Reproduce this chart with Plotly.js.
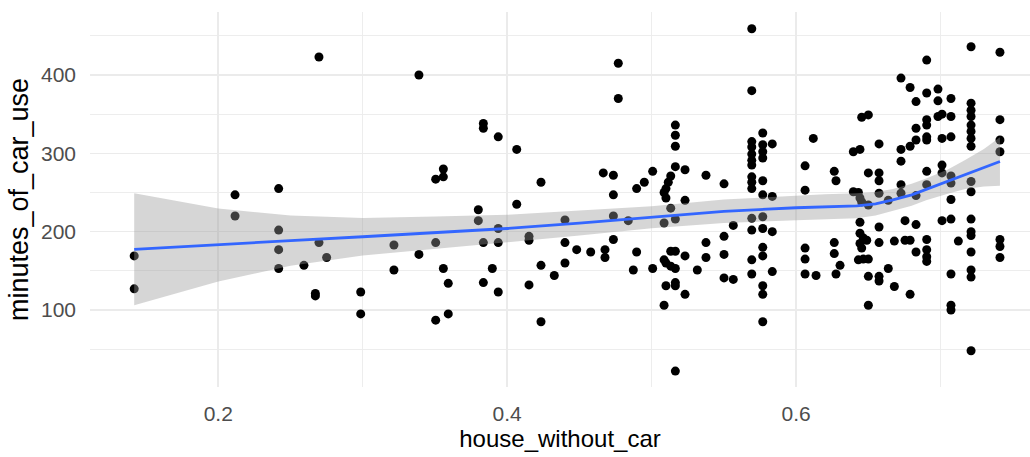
<!DOCTYPE html>
<html>
<head>
<meta charset="utf-8">
<script src="https://cdn.plot.ly/plotly-3.0.1.min.js"></script>
<style>
  html, body { margin: 0; padding: 0; background: #ffffff; }
  #chart { width: 1030px; height: 457px; }
</style>
</head>
<body>
<div id="chart"></div>
<script>
// Observations: share of households without a car vs. minutes of car use
const houseWithoutCar = [
  0.1418, 0.1418, 0.2116, 0.2116, 0.2418, 0.2418, 0.2418, 0.2418, 0.2593, 0.2672,
  0.2672, 0.2697, 0.2697, 0.2750, 0.2986, 0.2986, 0.3216, 0.3216, 0.3389, 0.3389,
  0.3505, 0.3558, 0.3558, 0.3505, 0.3558, 0.3592, 0.3505, 0.3592, 0.3800, 0.3800,
  0.3835, 0.3835, 0.3835, 0.3835, 0.3938, 0.3938, 0.3938, 0.3897, 0.3938, 0.4066,
  0.4066, 0.4151, 0.4151, 0.4234, 0.4234, 0.4151, 0.4234, 0.4326, 0.4400, 0.4400,
  0.4400, 0.4481, 0.4578, 0.4665, 0.4735, 0.4735, 0.4735, 0.4735, 0.4677, 0.4677,
  0.4769, 0.4769, 0.4838, 0.4896, 0.4873, 0.4896, 0.4949, 0.5007, 0.5007, 0.5086,
  0.5164, 0.5164, 0.5164, 0.5164, 0.5231, 0.5132, 0.5115, 0.5099, 0.5086, 0.5099,
  0.5231, 0.5132, 0.5164, 0.5086, 0.5132, 0.5164, 0.5231, 0.5086, 0.5099, 0.5132,
  0.5164, 0.5099, 0.5164, 0.5164, 0.5231, 0.5164, 0.5316, 0.5376, 0.5376, 0.5376,
  0.5501, 0.5501, 0.5501, 0.5501, 0.5565, 0.5565, 0.5693, 0.5693, 0.5769, 0.5693,
  0.5693, 0.5693, 0.5693, 0.5693, 0.5769, 0.5769, 0.5769, 0.5835, 0.5693, 0.5693,
  0.5693, 0.5769, 0.5769, 0.5835, 0.5693, 0.5769, 0.5693, 0.5769, 0.5835, 0.5769,
  0.5769, 0.5693, 0.5693, 0.5835, 0.5769, 0.5769, 0.5769, 0.6062, 0.6062, 0.6119,
  0.6062, 0.6062, 0.6062, 0.6138, 0.6264, 0.6276, 0.6264, 0.6264, 0.6304, 0.6276,
  0.6454, 0.6500, 0.6396, 0.6442, 0.6574, 0.6396, 0.6431, 0.6442, 0.6454, 0.6500,
  0.6574, 0.6574, 0.6574, 0.6500, 0.6442, 0.6442, 0.6465, 0.6442, 0.6489, 0.6454,
  0.6431, 0.6465, 0.6500, 0.6574, 0.6574, 0.6500, 0.6574, 0.6574, 0.6500, 0.6638,
  0.6638, 0.6680, 0.6680, 0.6726, 0.6726, 0.6726, 0.6726, 0.6726, 0.6754, 0.6754,
  0.6789, 0.6789, 0.6789, 0.6789, 0.6830, 0.6830, 0.6830, 0.6830, 0.6830, 0.6830,
  0.6904, 0.6904, 0.6904, 0.6904, 0.6904, 0.6904, 0.6904, 0.6904, 0.6904, 0.6904,
  0.6904, 0.6904, 0.6982, 0.6982, 0.6982, 0.7010, 0.7010, 0.7010, 0.7010, 0.7010,
  0.7072, 0.7072, 0.7072, 0.7072, 0.7072, 0.7072, 0.7072, 0.7072, 0.7072, 0.7072,
  0.7123, 0.7211, 0.7211, 0.7211, 0.7211, 0.7211, 0.7211, 0.7211, 0.7211, 0.7211,
  0.7211, 0.7211, 0.7211, 0.7211, 0.7211, 0.7211, 0.7211, 0.7211, 0.7411, 0.7411,
  0.7411, 0.7411, 0.7411, 0.7411, 0.7411
];
const minutesOfCarUse = [
  169, 127, 247, 220, 255, 202, 177, 153, 157, 121,
  118, 423, 186, 167, 123, 95, 183, 151, 400, 171,
  267, 280, 270, 186, 153, 134, 87, 95, 228, 214,
  338, 332, 186, 135, 321, 204, 186, 153, 123, 305,
  235, 194, 189, 263, 157, 132, 85, 144, 215, 186,
  160, 177, 174, 275, 272, 247, 220, 190, 177, 167,
  415, 370, 214, 174, 151, 255, 263, 277, 153, 106,
  336, 323, 309, 283, 279, 271, 263, 255, 250, 243,
  240, 230, 216, 211, 175, 175, 169, 164, 160, 156,
  153, 131, 135, 131, 120, 22, 151, 272, 186, 167,
  261, 194, 171, 141, 208, 139, 459, 380, 326, 315,
  308, 299, 291, 285, 311, 302, 294, 312, 270, 263,
  255, 265, 247, 245, 217, 219, 202, 204, 200, 180,
  169, 164, 146, 149, 131, 120, 85, 284, 253, 319,
  179, 165, 146, 144, 277, 265, 186, 172, 157, 146,
  346, 349, 302, 305, 312, 251, 250, 243, 238, 275,
  275, 265, 249, 234, 212, 198, 192, 185, 189, 179,
  164, 165, 165, 206, 186, 143, 143, 137, 106, 153,
  240, 130, 188, 396, 305, 290, 260, 249, 214, 189,
  189, 384, 309, 120, 366, 332, 317, 246, 209, 174,
  419, 377, 343, 336, 321, 317, 277, 260, 190, 177,
  168, 162, 382, 367, 347, 350, 319, 285, 275, 214,
  370, 347, 321, 271, 262, 241, 216, 146, 106, 100,
  188, 436, 364, 355, 347, 336, 328, 319, 309, 264,
  251, 216, 200, 195, 174, 151, 142, 48, 429, 343,
  317, 302, 190, 181, 167
];

// Loess smooth with its 95% confidence band
const smoothX  = [0.1418, 0.20, 0.25, 0.30, 0.35, 0.40, 0.45, 0.50, 0.55, 0.60, 0.620, 0.642, 0.655, 0.667, 0.680, 0.690, 0.705, 0.717, 0.730, 0.7411];
const smoothY  = [177.5, 183.0, 188.5, 193.5, 198.5, 204.0, 211.0, 218.5, 226.0, 230.5, 231.8, 233.0, 235.5, 240.5, 247.0, 254.0, 264.0, 273.0, 281.5, 289.5];
const smoothLo = [106.0, 136.5, 156.5, 169.5, 177.5, 186.5, 195.0, 204.5, 211.0, 214.5, 215.8, 217.0, 220.5, 226.5, 233.0, 240.0, 248.5, 254.5, 257.5, 258.5];
const smoothHi = [249.0, 229.5, 220.5, 217.5, 219.5, 221.5, 227.0, 232.5, 241.0, 246.5, 247.8, 249.0, 250.5, 254.5, 261.0, 268.0, 279.5, 291.5, 305.5, 320.5];

const xTicks = [0.2, 0.4, 0.6];
const yTicks = [100, 200, 300, 400];

const bandX = smoothX.concat(smoothX.slice().reverse());
const bandY = smoothHi.concat(smoothLo.slice().reverse());

const traces = [
  {
    type: 'scatter', mode: 'markers',
    x: houseWithoutCar, y: minutesOfCarUse,
    marker: { color: '#000000', size: 9 },
    hoverinfo: 'x+y', showlegend: false
  },
  {
    type: 'scatter', mode: 'lines',
    x: bandX, y: bandY,
    fill: 'toself', fillcolor: 'rgba(153,153,153,0.4)',
    line: { width: 0, color: 'rgba(0,0,0,0)' },
    hoverinfo: 'skip', showlegend: false
  },
  {
    type: 'scatter', mode: 'lines',
    x: smoothX, y: smoothY,
    line: { color: '#3366FF', width: 2.8 },
    hoverinfo: 'skip', showlegend: false
  }
];

const gridMajor = '#EBEBEB';
const fontFamily = 'Liberation Sans, Arial, sans-serif';

const layout = {
  width: 1030, height: 457,
  margin: { l: 90, r: 0, t: 12, b: 70, pad: 0 },
  paper_bgcolor: '#ffffff', plot_bgcolor: '#ffffff',
  font: { family: fontFamily, color: '#4D4D4D' },
  showlegend: false,
  xaxis: {
    range: [0.1112, 0.7619],
    tickvals: xTicks, ticktext: xTicks.map(v => v.toFixed(1)),
    ticks: '', ticklabelstandoff: 12,
    tickfont: { size: 21, color: '#4D4D4D', family: fontFamily },
    showgrid: true, gridcolor: gridMajor, gridwidth: 1.6,
    minor: { dtick: 0.1, tick0: 0.1, showgrid: true, gridcolor: gridMajor, gridwidth: 0.9 },
    zeroline: false, showline: false,
    title: { text: 'house_without_car', font: { size: 24, color: '#000000', family: fontFamily }, standoff: 6 },
    automargin: false
  },
  yaxis: {
    range: [1.7, 480.4],
    tickvals: yTicks, ticktext: yTicks.map(String),
    ticks: '', ticklabelstandoff: 13,
    tickfont: { size: 21, color: '#4D4D4D', family: fontFamily },
    showgrid: true, gridcolor: gridMajor, gridwidth: 1.6,
    minor: { dtick: 50, tick0: 50, showgrid: true, gridcolor: gridMajor, gridwidth: 0.9 },
    zeroline: false, showline: false,
    title: { text: 'minutes_of_car_use', font: { size: 27, color: '#000000', family: fontFamily }, standoff: 4 },
    automargin: false
  }
};

Plotly.newPlot('chart', traces, layout, { displayModeBar: false, staticPlot: true });
</script>
</body>
</html>
